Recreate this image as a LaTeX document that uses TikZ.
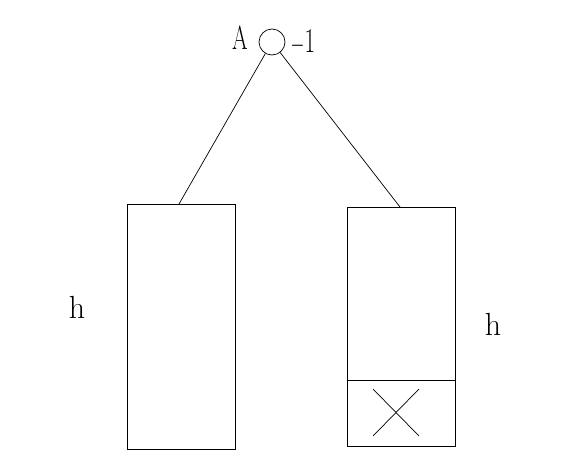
\documentclass[tikz,border=0pt]{standalone}
\usepackage{fontspec}
\begin{document}
\begin{tikzpicture}[x=1pt,y=-1pt,
  edge/.style={line width=0.7pt},
  lbl/.style={inner sep=0pt,font=\fontsize{32}{32}\selectfont}]
\useasboundingbox[fill=white] (0,0) rectangle (563,471);
\node[circle,draw,line width=0.7pt,minimum size=26pt,inner sep=0pt] (c) at (272,42) {};
\node[lbl,xscale=0.7,yscale=1.05] (A) at (240,38) {A};
\node[lbl,xscale=0.72,yscale=1.08] (m) at (303,42) {$-$1};
\draw[edge] (127,204) rectangle (235,449);
\coordinate (lt) at (179,204);
\draw[edge] (347,207) rectangle (455,446);
\draw[edge] (347,380) -- (455,380);
\coordinate (rt) at (400,207);
\draw[edge] (c) -- (lt);
\draw[edge] (c) -- (rt);
\coordinate (x1) at (373,389);
\coordinate (x2) at (419,436);
\coordinate (x3) at (419,389);
\coordinate (x4) at (373,436);
\draw[edge] (x1) -- (x2);
\draw[edge] (x3) -- (x4);
\node[lbl] (h1) at (77,307) {h};
\node[lbl] (h2) at (493,324) {h};
\end{tikzpicture}
\end{document}
